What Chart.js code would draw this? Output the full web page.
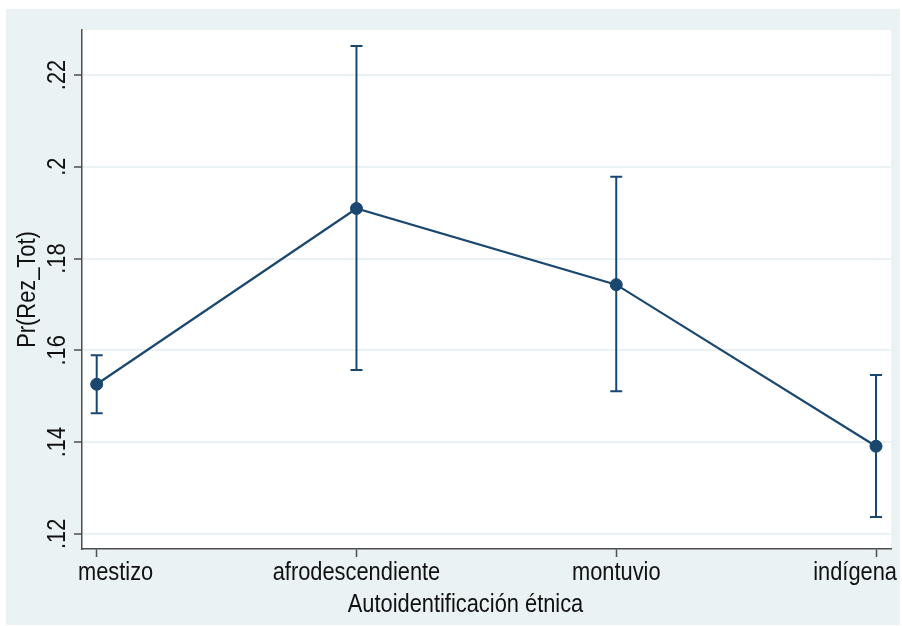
<!DOCTYPE html>
<html>
<head>
<meta charset="utf-8">
<script src="https://cdn.jsdelivr.net/npm/chart.js"></script>
<style>
  html, body { margin: 0; background: #fff; }
  .chart-container {
    position: absolute;
    left: 6px;
    top: 9px;
    width: 894px;
    height: 616px;
    background: #eaf2f3;
  }
</style>
</head>
<body>
<div class="chart-container"><canvas id="chart"></canvas></div>
<script>
'use strict'

const categories = ['mestizo', 'afrodescendiente', 'montuvio', 'indígena']
const margins = [0.1526, 0.1909, 0.1743, 0.1391]
const ciLow = [0.1463, 0.1557, 0.1511, 0.1237]
const ciHigh = [0.1589, 0.2263, 0.1978, 0.1546]
const yTicks = [0.12, 0.14, 0.16, 0.18, 0.20, 0.22]

const NAVY = '#1a476f'
const AXIS = '#4d4d4d'
const GRID = '#eaf2f3'
const TEXT = '#111'
const FAMILY = "'Liberation Sans', Arial, sans-serif"
const SIZE = 26
const NARROW = 0.84 // helvetica narrow is a squeezed helvetica

// stata style: no leading zero, no trailing zero
const fmt = v => v.toFixed(2).replace(/^0/, '').replace(/0$/, '')

function narrowText(ctx, text, x, y, rot, align) {
  ctx.save()
  ctx.translate(x, y)
  ctx.rotate(rot)
  ctx.scale(NARROW, 1)
  ctx.font = `${SIZE}px ${FAMILY}`
  ctx.fillStyle = TEXT
  ctx.textAlign = align
  ctx.textBaseline = 'alphabetic'
  ctx.fillText(text, 0, 0)
  ctx.restore()
}

function textWidth(ctx, text) {
  ctx.save()
  ctx.font = `${SIZE}px ${FAMILY}`
  const w = ctx.measureText(text).width * NARROW
  ctx.restore()
  return w
}

const plotArea = {
  id: 'plotArea',
  beforeDraw(chart) {
    const { ctx, chartArea: a } = chart
    ctx.save()
    ctx.fillStyle = '#fff'
    ctx.fillRect(a.left, a.top, a.right - a.left, a.bottom - a.top)
    ctx.restore()
  }
}

const errorBars = {
  id: 'errorBars',
  beforeDatasetsDraw(chart) {
    const { ctx, scales: { x, y } } = chart
    ctx.save()
    ctx.strokeStyle = NAVY
    ctx.lineWidth = 2
    categories.forEach((c, i) => {
      const px = x.getPixelForValue(i)
      const lo = y.getPixelForValue(ciLow[i])
      const hi = y.getPixelForValue(ciHigh[i])
      ctx.beginPath()
      ctx.moveTo(px, lo); ctx.lineTo(px, hi)
      ctx.moveTo(px - 6, lo); ctx.lineTo(px + 6, lo)
      ctx.moveTo(px - 6, hi); ctx.lineTo(px + 6, hi)
      ctx.stroke()
    })
    ctx.restore()
  }
}

// all texts drawn narrow, the way stata's graph font looks
const labels = {
  id: 'labels',
  afterDraw(chart) {
    const { ctx, chartArea: a, scales: { x, y } } = chart
    const base = a.bottom + 31

    categories.forEach((c, i) => {
      const w = textWidth(ctx, c)
      let left = x.getPixelForValue(i) - w / 2
      left = Math.max(left, a.left - 4)
      left = Math.min(left, chart.width - 3 - w)
      narrowText(ctx, c, left, base, 0, 'left')
    })

    yTicks.forEach(v => {
      narrowText(ctx, fmt(v), a.left - 17, y.getPixelForValue(v), -Math.PI / 2, 'center')
    })

    narrowText(ctx, 'Autoidentificación étnica', (a.left + a.right) / 2 - 21, chart.height - 13, 0, 'center')
    narrowText(ctx, 'Pr(Rez_Tot)', a.left - 47, (a.top + a.bottom) / 2, -Math.PI / 2, 'center')
  }
}

new Chart(document.getElementById('chart').getContext('2d'), {
  type: 'line',
  data: {
    datasets: [{
      data: margins.map((m, i) => ({ x: i, y: m })),
      borderColor: NAVY,
      borderWidth: 2.2,
      pointRadius: 6,
      pointBorderWidth: 1,
      pointBackgroundColor: NAVY,
      pointBorderColor: NAVY,
      tension: 0,
      clip: false
    }]
  },
  options: {
    responsive: true,
    maintainAspectRatio: false,
    animation: false,
    layout: { padding: { left: 0, top: 21, right: 9, bottom: 0 } },
    plugins: {
      legend: { display: false },
      tooltip: { enabled: false }
    },
    scales: {
      x: {
        type: 'linear',
        min: -0.0566,
        max: 3.0577,
        afterBuildTicks: s => { s.ticks = categories.map((c, i) => ({ value: i })) },
        afterFit: s => {
          s.height = 76
          s.paddingLeft = 0
          s.paddingRight = 0
        },
        ticks: { display: false },
        grid: {
          drawOnChartArea: false,
          tickLength: 8,
          tickColor: AXIS,
          tickWidth: 1.5
        },
        border: { color: AXIS, width: 1.5 }
      },
      y: {
        min: 0.1167,
        max: 0.2298,
        afterBuildTicks: s => { s.ticks = yTicks.map(v => ({ value: v })) },
        afterFit: s => {
          s.width = 76
          s.paddingTop = 0
          s.paddingBottom = 0
        },
        ticks: { display: false },
        grid: {
          color: GRID,
          lineWidth: 2,
          tickLength: 8,
          tickColor: AXIS,
          tickWidth: 1.5
        },
        border: { color: AXIS, width: 1.5 }
      }
    }
  },
  plugins: [plotArea, errorBars, labels]
})
</script>
</body>
</html>
